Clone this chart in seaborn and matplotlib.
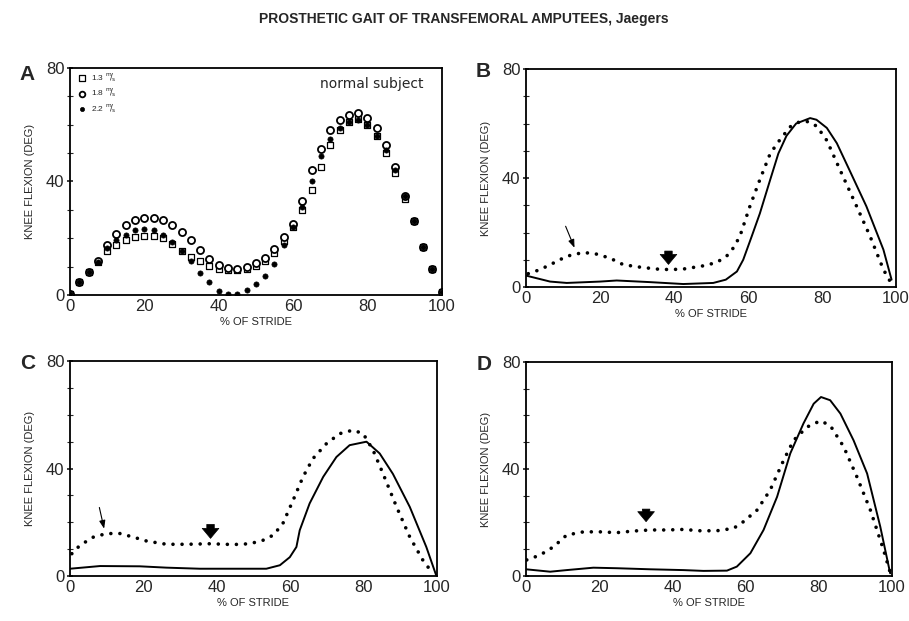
import matplotlib
matplotlib.use("Agg")
import matplotlib.pyplot as plt
import seaborn as sns
import pandas as pd

sns.set_theme(style="ticks")
plt.rcParams['font.family'] = ['Liberation Sans', 'DejaVu Sans']

# ---------------- Panel A: normal subject, three walking speeds ----------------
stride_a = [0, 2.5, 5, 7.5, 10, 12.5, 15, 17.5, 20, 22.5, 25, 27.5, 30, 32.5, 35, 37.5,
            40, 42.5, 45, 47.5, 50, 52.5, 55, 57.5, 60, 62.5, 65, 67.5, 70, 72.5, 75,
            77.5, 80, 82.5, 85, 87.5, 90, 92.5, 95, 97.5, 100]
knee_13 = [0.5, 4.5, 8, 11.5, 15.5, 17.5, 19.5, 20.3, 20.8, 20.8, 20, 18, 15.5, 13.3, 11.8,
           10.3, 9.3, 8.9, 8.8, 9.3, 10.3, 12, 14.7, 19, 24, 30, 37, 45, 53, 58, 61,
           62, 60, 56, 50, 43, 34, 26, 17, 9, 1]
knee_18 = [0.5, 4.5, 8, 12, 17.5, 21.5, 24.5, 26.3, 27.3, 27.3, 26.3, 24.8, 22.3, 19.5, 16,
           12.8, 10.5, 9.5, 9.3, 10, 11.3, 13.2, 16.2, 20.5, 25, 33, 44, 51.5, 58, 61.5, 63.5,
           64, 62.5, 59, 53, 45, 35, 26, 17, 9, 1]
knee_22 = [0.5, 4.5, 8, 11.5, 16.5, 19.3, 21.2, 22.8, 23.3, 23, 21.2, 18.6, 15.5, 12, 7.8,
           4.5, 1.5, 0.3, 0.5, 1.8, 3.8, 6.7, 11, 17.5, 24, 31, 40, 49, 55, 59, 61,
           61.5, 60, 56, 51, 44, 35, 26, 17, 9, 1]

# ---------------- Panel B ----------------
b_solid_x = [0, 6.5, 11, 20, 24.5, 33.5, 42.5, 50.6, 54, 57, 58.7, 61, 63.2, 66, 68.2,
             70.4, 73, 76.8, 78.5, 81.3, 84, 87.6, 92, 96.6, 98.8]
b_solid_y = [4.2, 2, 1.5, 2, 2.4, 1.8, 1.1, 1.5, 2.7, 5.7, 10, 18.6, 27, 39.4, 49,
             55.5, 60, 62, 61.4, 58.4, 52.8, 42.4, 29.6, 13.7, 2.7]
b_dot_x = [0.6, 3.8, 7.4, 11, 15.5, 19, 22.7, 26.3, 30.8, 35.3, 38.9, 42.5, 48, 51.5,
           54.2, 56, 57.8, 60.5, 63.2, 66, 68.6, 71.4, 74, 76.4, 78.6, 81.3, 84.9, 89.4,
           93, 96.6, 98.4]
b_dot_y = [4.9, 6.4, 8.8, 11.3, 12.7, 12.1, 10.6, 8.2, 7.3, 6.6, 6.4, 6.6, 7.8, 9,
           11.3, 14.3, 18.6, 29.6, 39.4, 49, 54, 58.8, 60.7, 60.7, 59, 53.8, 42.9, 29.5,
           18.6, 6.4, 2.1]

# ---------------- Panel C ----------------
c_solid_x = [0, 8.2, 19, 26.3, 35.4, 44.5, 53.5, 57.2, 59.9, 61.7, 62.6, 65.3, 69, 72.6,
             76.2, 80.8, 84.4, 88, 92.6, 97.1, 99.8]
c_solid_y = [2.7, 3.7, 3.6, 3.1, 2.7, 2.7, 2.7, 4, 7, 10.8, 17, 27, 36.9, 44.3,
             48.7, 50, 45.6, 38, 25.7, 10.8, 0.2]
c_dot_x = [0.5, 2.7, 6.4, 10, 13.6, 17.2, 20.9, 26.3, 31.8, 38.1, 44.5, 49, 52.6, 55.4,
           58, 60.8, 63.5, 66.2, 69.9, 73.5, 77.1, 79.9, 82.6, 85.3, 89, 92.6, 96.2, 98.9]
c_dot_y = [8.3, 11.4, 14.5, 15.8, 15.8, 14.5, 13, 11.8, 11.8, 12, 11.7, 12, 13.3, 15.2,
           19.5, 28.2, 36.9, 43.7, 49.3, 53, 54.3, 53, 46.8, 38.1, 25.7, 14.5, 5.8, 0.9]

# ---------------- Panel D ----------------
d_solid_x = [0, 6.6, 11.1, 18.4, 24.8, 33.9, 43, 48.5, 54.9, 57.6, 61.3, 64.9, 68.6, 72.2,
             75.8, 78.6, 80.6, 83.1, 85.9, 89.5, 93.2, 96.8, 99.5]
d_solid_y = [2.5, 1.6, 2.2, 3.1, 2.9, 2.5, 2.2, 1.9, 2, 3.5, 8.5, 17.2, 29.6, 45.8,
             57, 64.4, 66.9, 65.7, 60.7, 50.7, 38.3, 18.4, 1]
d_dot_x = [0.2, 3.8, 7.5, 11.1, 15.7, 20.2, 24.8, 29.4, 33.9, 38.5, 43, 47.6, 52.1, 56.7,
           59.4, 63.1, 66.7, 70.4, 73.1, 76.8, 80.4, 83.1, 86.8, 90.4, 94.1, 97.7, 99.7]
d_dot_y = [6, 7.8, 10.9, 15.3, 16.5, 16.5, 16.2, 16.8, 17.2, 17.2, 17.4, 16.9, 16.9, 17.8,
           20.3, 24.6, 32.1, 43.3, 50.7, 55.7, 58, 56.3, 48.3, 37.1, 24.6, 9.7, 0.4]

x_ticks = [0, 20, 40, 60, 80, 100]
y_ticks = [0, 40, 80]
y_minor = [10, 20, 30, 50, 60, 70]
panel_letters = ["A", "B", "C", "D"]
speed_labels = [r"1.3 $^{\mathrm{m}}\!/\!_{\mathrm{s}}$", r"1.8 $^{\mathrm{m}}\!/\!_{\mathrm{s}}$",
                r"2.2 $^{\mathrm{m}}\!/\!_{\mathrm{s}}$"]

fig = plt.figure(figsize=(9.09, 6.21), dpi=100)
axA = fig.add_axes([0.077, 0.525, 0.409, 0.3655])
axB = fig.add_axes([0.5787, 0.5378, 0.407, 0.351])
axC = fig.add_axes([0.077, 0.0725, 0.4037, 0.346])
axD = fig.add_axes([0.5787, 0.0725, 0.4026, 0.3446])

dotted = dict(linestyle=(0, (0.01, 2.5)), linewidth=2.6, dash_capstyle="round", color="black")
solid = dict(linestyle="-", linewidth=1.4, color="black")

# Panel A scatter
sns.scatterplot(x=stride_a, y=knee_13, ax=axA, marker="s", s=22, facecolor="white",
                edgecolor="black", linewidth=0.9, label=speed_labels[0], zorder=3)
sns.scatterplot(x=stride_a, y=knee_18, ax=axA, marker="o", s=26, facecolor="white",
                edgecolor="black", linewidth=1.3, label=speed_labels[1], zorder=4)
sns.scatterplot(x=stride_a, y=knee_22, ax=axA, marker="o", s=14, color="black",
                edgecolor="black", linewidth=0.5, label=speed_labels[2], zorder=5)
leg = axA.legend(loc="upper left", frameon=False, fontsize=6, handletextpad=0.1,
                 borderaxespad=0.3, labelspacing=0.35, markerscale=0.8, borderpad=0.1)
axA.text(0.95, 0.93, "normal subject", transform=axA.transAxes, ha="right", va="center",
         fontsize=10, family=["DejaVu Sans"])

for ax, sx, sy, dx, dy in [(axB, b_solid_x, b_solid_y, b_dot_x, b_dot_y),
                           (axC, c_solid_x, c_solid_y, c_dot_x, c_dot_y),
                           (axD, d_solid_x, d_solid_y, d_dot_x, d_dot_y)]:
    sns.lineplot(x=sx, y=sy, ax=ax, sort=False, estimator=None, **solid)
    sns.lineplot(x=dx, y=dy, ax=ax, sort=False, estimator=None, **dotted)

# arrows
thin = dict(arrowstyle="-|>,head_length=0.4,head_width=0.15", lw=0.8, color="black",
            shrinkA=0, shrinkB=0)
bold = dict(arrowstyle="simple,head_length=0.6,head_width=1.0,tail_width=0.45",
            fc="black", ec="black", lw=0.5, shrinkA=0, shrinkB=0)
axB.annotate("", xy=(13.1, 14.4), xytext=(10.7, 22.3), arrowprops=thin)
axB.annotate("", xy=(38.5, 8.3), xytext=(38.5, 13.2), arrowprops=bold)
axC.annotate("", xy=(9.3, 17.6), xytext=(8.0, 25.5), arrowprops=thin)
axC.annotate("", xy=(38.3, 14.0), xytext=(38.3, 19.2), arrowprops=bold)
axD.annotate("", xy=(32.8, 20.3), xytext=(32.8, 25.0), arrowprops=bold)

letter_y = [0.97, 0.99, 0.99, 0.99]
for ax, letter, ly in zip([axA, axB, axC, axD], panel_letters, letter_y):
    ax.set_xlim(0, 100)
    ax.set_ylim(0, 80)
    ax.set_xticks(x_ticks)
    ax.set_yticks(y_ticks)
    ax.set_yticks(y_minor, minor=True)
    ax.tick_params(axis="x", length=0, labelsize=12, pad=3)
    ax.tick_params(axis="y", which="major", length=4, direction="inout", labelsize=12, pad=2)
    ax.tick_params(axis="y", which="minor", length=4, direction="inout", width=0.8)
    ax.set_xlabel("% OF STRIDE", fontsize=8, labelpad=2)
    ax.set_ylabel("KNEE FLEXION (DEG)", fontsize=8, labelpad=8)
    for sp in ax.spines.values():
        sp.set_visible(True)
        sp.set_linewidth(1.3)
        sp.set_color("black")
    ax.set_facecolor("white")
    ax.text(-0.115, ly, letter, transform=ax.transAxes, fontsize=15, fontweight="bold",
            ha="center", va="center")

fig.text(0.51, 0.97, "PROSTHETIC GAIT OF TRANSFEMORAL AMPUTEES, Jaegers",
         ha="center", va="center", fontsize=10, fontweight="bold")

fig.savefig("out.png", dpi=100, facecolor="white")
